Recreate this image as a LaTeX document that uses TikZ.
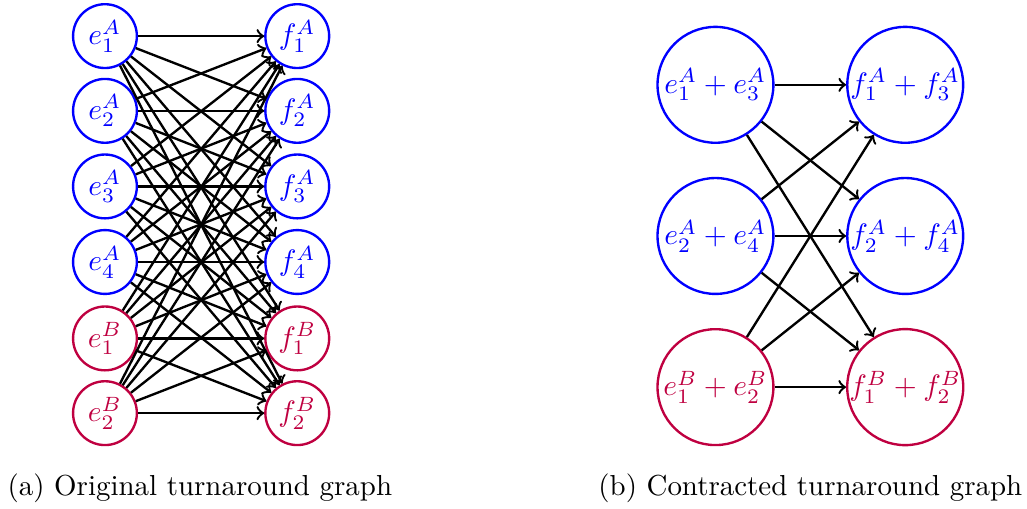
\documentclass[tikz,border=0pt]{standalone}
\usetikzlibrary{positioning}

\tikzset{
  vtxA/.style={circle,draw=blue,text=blue,thick,inner sep=0pt},
  vtxB/.style={circle,draw=purple,text=purple,thick,inner sep=0pt},
  edge/.style={->,thick}
}

\begin{document}
\begin{tikzpicture}[every node/.style={font=\fontsize{9.8pt}{12pt}\selectfont}]
\useasboundingbox (0,0) rectangle (12.23,6.05);
% ---------- (a) original graph ----------
\begin{scope}
\foreach \i/\y in {1/5.62,2/4.73,3/3.83,4/2.93}{
  \node[vtxA,minimum size=0.76cm] (eA\i) at (1.25,\y) {$e_{\i}^{A}$};
  \node[vtxA,minimum size=0.76cm] (fA\i) at (3.54,\y) {$f_{\i}^{A}$};
}
\foreach \i/\y in {1/2.02,2/1.13}{
  \node[vtxB,minimum size=0.76cm] (eB\i) at (1.25,\y) {$e_{\i}^{B}$};
  \node[vtxB,minimum size=0.76cm] (fB\i) at (3.54,\y) {$f_{\i}^{B}$};
}
% every source to every target
\foreach \s in {eA1,eA2,eA3,eA4,eB1,eB2}{
  \foreach \t in {fA1,fA2,fA3,fA4,fB1,fB2}{
    \draw[edge] (\s) -- (\t);
  }
}
\node (capa) at (2.38,0.23) {(a) Original turnaround graph};
\end{scope}
% ---------- (b) contracted graph ----------
\begin{scope}
\node[vtxA,minimum size=1.38cm] (e13) at (8.52,5.04) {$e_1^A+e_3^A$};
\node[vtxA,minimum size=1.38cm] (e24) at (8.52,3.24) {$e_2^A+e_4^A$};
\node[vtxB,minimum size=1.38cm] (eBB) at (8.52,1.44) {$e_1^B+e_2^B$};
\node[vtxA,minimum size=1.38cm] (f13) at (10.78,5.04) {$f_1^A+f_3^A$};
\node[vtxA,minimum size=1.38cm] (f24) at (10.78,3.24) {$f_2^A+f_4^A$};
\node[vtxB,minimum size=1.38cm] (fBB) at (10.78,1.44) {$f_1^B+f_2^B$};
\foreach \s in {e13,e24,eBB}{
  \foreach \t in {f13,f24,fBB}{
    \draw[edge] (\s) -- (\t);
  }
}
\node (capb) at (9.65,0.23) {(b) Contracted turnaround graph};
\end{scope}
\end{tikzpicture}
\end{document}
